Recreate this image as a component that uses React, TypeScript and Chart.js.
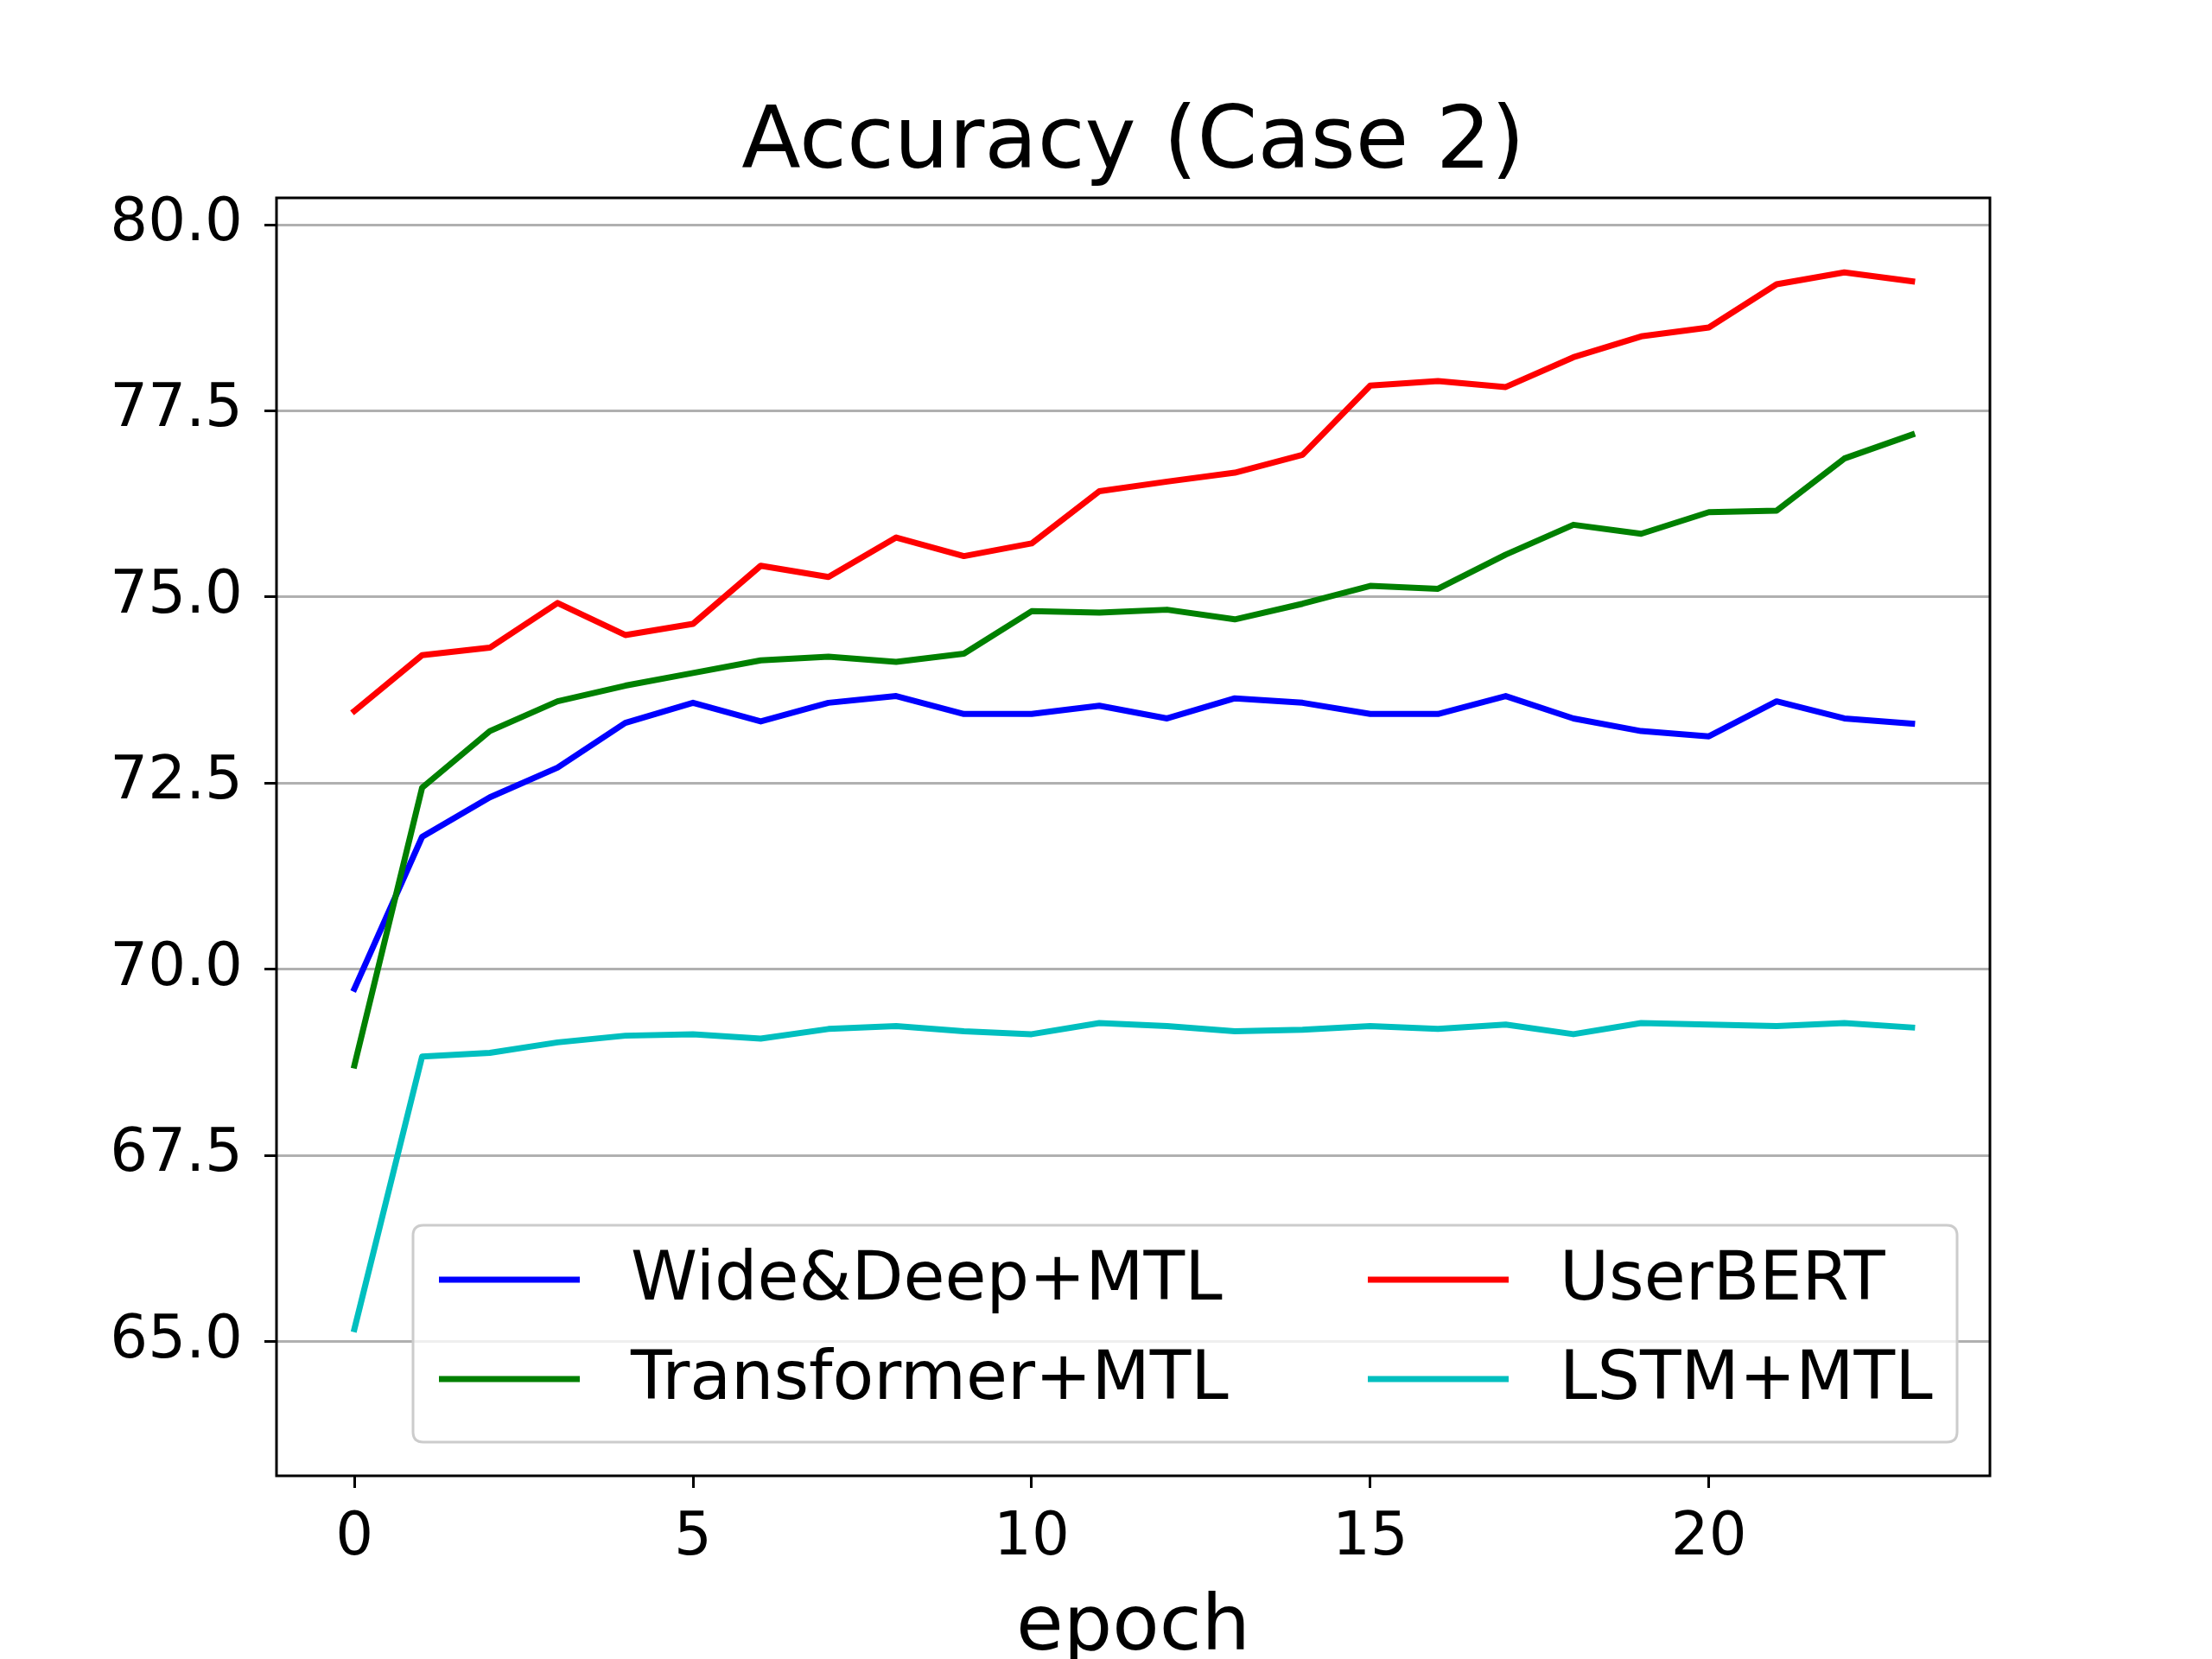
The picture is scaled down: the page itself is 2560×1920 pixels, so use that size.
import React, { useEffect, useRef } from "react";
import { Chart, registerables } from "chart.js";

Chart.register(...registerables);

const epochs = [0, 1, 2, 3, 4, 5, 6, 7, 8, 9, 10, 11, 12, 13, 14, 15, 16, 17, 18, 19, 20, 21, 22, 23];
const wideDeep = [69.74, 71.78, 72.31, 72.71, 73.31, 73.58, 73.33, 73.58, 73.67, 73.43, 73.43, 73.54, 73.37, 73.64, 73.58, 73.43, 73.43, 73.67, 73.37, 73.2, 73.13, 73.6, 73.37, 73.3];
const transformer = [68.71, 72.44, 73.2, 73.6, 73.81, 73.98, 74.15, 74.2, 74.13, 74.24, 74.81, 74.79, 74.83, 74.7, 74.91, 75.15, 75.11, 75.57, 75.97, 75.85, 76.14, 76.16, 76.86, 77.18];
const userBert = [73.47, 74.22, 74.32, 74.92, 74.49, 74.64, 75.42, 75.27, 75.8, 75.55, 75.72, 76.42, 76.55, 76.67, 76.91, 77.84, 77.9, 77.82, 78.22, 78.5, 78.62, 79.2, 79.36, 79.24];
const lstm = [65.17, 68.83, 68.88, 69.02, 69.11, 69.13, 69.07, 69.2, 69.24, 69.17, 69.13, 69.28, 69.24, 69.17, 69.19, 69.24, 69.2, 69.26, 69.13, 69.28, 69.26, 69.24, 69.28, 69.22];
const seriesLabels = ["Wide&Deep+MTL", "Transformer+MTL", "UserBERT", "LSTM+MTL"];
const seriesColors = ["#0000ff", "#008000", "#ff0000", "#00bfbf"];
const xTicks = [0, 5, 10, 15, 20];
const yTicks = [65, 67.5, 70, 72.5, 75, 77.5, 80];
const titleText = "Accuracy (Case 2)";
const xTitle = "epoch";

const FONT = "'DejaVu Sans', sans-serif";

const frameAndLegend = {
  id: "frameAndLegend",
  afterDatasetsDraw(chart: any) {
    const { ctx, chartArea: a } = chart;
    ctx.save();
    // axes frame
    ctx.strokeStyle = "#000";
    ctx.lineWidth = 3;
    ctx.strokeRect(a.left, a.top, a.right - a.left, a.bottom - a.top);

    // legend box
    const bx = a.left + 158;
    const by = a.top + 1189;
    const bw = 1787;
    const bh = 251;
    const r = 12;
    ctx.beginPath();
    ctx.moveTo(bx + r, by);
    ctx.lineTo(bx + bw - r, by);
    ctx.quadraticCurveTo(bx + bw, by, bx + bw, by + r);
    ctx.lineTo(bx + bw, by + bh - r);
    ctx.quadraticCurveTo(bx + bw, by + bh, bx + bw - r, by + bh);
    ctx.lineTo(bx + r, by + bh);
    ctx.quadraticCurveTo(bx, by + bh, bx, by + bh - r);
    ctx.lineTo(bx, by + r);
    ctx.quadraticCurveTo(bx, by, bx + r, by);
    ctx.closePath();
    ctx.fillStyle = "rgba(255,255,255,0.8)";
    ctx.fill();
    ctx.strokeStyle = "#cccccc";
    ctx.lineWidth = 3;
    ctx.stroke();

    const rows = [63, 178];
    const cols = [30, 1105];
    const textOff = 222;
    ctx.font = `78px ${FONT}`;
    ctx.textAlign = "left";
    ctx.textBaseline = "middle";
    chart.data.datasets.forEach((ds: any, i: number) => {
      const col = Math.floor(i / 2);
      const row = i % 2;
      const lx = bx + cols[col];
      const ly = by + rows[row];
      ctx.strokeStyle = ds.borderColor;
      ctx.lineWidth = 7;
      ctx.lineCap = "butt";
      ctx.beginPath();
      ctx.moveTo(lx, ly);
      ctx.lineTo(lx + 163, ly);
      ctx.stroke();
      ctx.fillStyle = "#000";
      ctx.fillText(ds.label, lx + textOff, ly + 3);
    });
    ctx.restore();
  },
};

export default function App() {
  const ref = useRef<HTMLCanvasElement>(null);
  useEffect(() => {
    if (!ref.current) return;
    const seriesData = [wideDeep, transformer, userBert, lstm];
    const chart = new Chart(ref.current, {
      type: "line",
      data: {
        datasets: seriesData.map((vals, i) => ({
          label: seriesLabels[i],
          data: epochs.map((e, j) => ({ x: e, y: vals[j] })),
          borderColor: seriesColors[i],
          backgroundColor: seriesColors[i],
          borderWidth: 7,
          pointRadius: 0,
          tension: 0,
          fill: false,
          borderJoinStyle: "round",
          borderCapStyle: "square",
          order: 4 - i,
        })),
      },
      options: {
        animation: false,
        responsive: false,
        devicePixelRatio: 1,
        layout: { padding: { left: 0, right: 257, top: 0, bottom: 0 } },
        plugins: {
          legend: { display: false },
          tooltip: { enabled: false },
          title: {
            display: true,
            text: titleText,
            fullSize: false,
            color: "#000",
            font: { family: FONT, size: 100, weight: "normal", lineHeight: 1.2 },
            padding: { top: 108, bottom: 1 },
          },
        },
        scales: {
          x: {
            type: "linear",
            min: -1.15,
            max: 24.15,
            afterFit: (s: any) => {
              s.height = 212;
            },
            afterBuildTicks: (s: any) => {
              s.ticks = xTicks.map((v) => ({ value: v }));
            },
            border: { display: false },
            grid: {
              drawOnChartArea: false,
              drawTicks: true,
              tickLength: 14,
              tickWidth: 3,
              tickColor: "#000",
            },
            ticks: {
              color: "#000",
              padding: 18,
              maxRotation: 0,
              font: { family: FONT, size: 69, lineHeight: 1.2 },
              callback: (v: any) => String(v),
            },
            title: {
              display: true,
              text: xTitle,
              color: "#000",
              font: { family: FONT, size: 89, lineHeight: 0.76 },
              padding: { top: 0, bottom: 0 },
            },
          },
          y: {
            type: "linear",
            min: 63.2,
            max: 80.36,
            afterFit: (s: any) => {
              s.width = 320;
            },
            afterBuildTicks: (s: any) => {
              s.ticks = yTicks.map((v) => ({ value: v }));
            },
            border: { display: false },
            grid: {
              color: "#b0b0b0",
              lineWidth: 3,
              drawTicks: true,
              tickLength: 14,
              tickWidth: 3,
              tickColor: "#000",
            },
            ticks: {
              color: "#000",
              padding: 25,
              font: { family: FONT, size: 69, lineHeight: 1.2 },
              callback: (v: any) => Number(v).toFixed(1),
            },
          },
        },
      },
      plugins: [frameAndLegend],
    });
    return () => chart.destroy();
  }, []);
  return (
    <div style={{ position: "absolute", left: 0, top: 0, width: 2560, height: 1920, background: "#fff" }}>
      <canvas ref={ref} width={2560} height={1920} style={{ width: 2560, height: 1920, display: "block" }} />
    </div>
  );
}
